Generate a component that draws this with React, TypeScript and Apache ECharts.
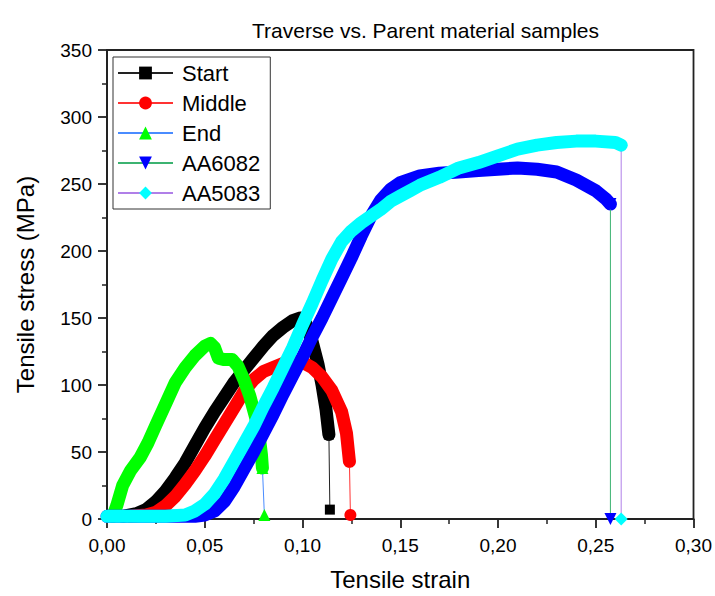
import React, { useEffect, useRef } from "react";
import * as echarts from "echarts";

// ---- Data (strain, stress in MPa) ----
const startStrain = [0.008, 0.015, 0.02, 0.025, 0.03, 0.035, 0.04, 0.045, 0.05, 0.055, 0.06, 0.065, 0.07, 0.075, 0.08, 0.085, 0.09, 0.095, 0.099, 0.102, 0.105, 0.108, 0.11, 0.112, 0.1135];
const startStress = [2, 4, 7, 13, 21, 31, 42, 55, 68, 80, 91, 102, 111, 120, 129, 137, 143, 148, 150, 145, 132, 115, 100, 82, 63];
const startEnd = [0.114, 7];

const middleStrain = [0.012, 0.02, 0.025, 0.03, 0.035, 0.04, 0.045, 0.05, 0.055, 0.06, 0.065, 0.07, 0.075, 0.08, 0.085, 0.09, 0.095, 0.1, 0.105, 0.11, 0.115, 0.12, 0.1225, 0.124];
const middleStress = [2, 3, 5, 10, 17, 26, 36, 47, 59, 71, 83, 95, 104, 110, 113, 116, 118, 117, 113, 106, 96, 80, 64, 43];
const middleEnd = [0.1245, 3];

const endStrain = [0.003, 0.005, 0.008, 0.012, 0.017, 0.021, 0.025, 0.03, 0.035, 0.04, 0.045, 0.05, 0.053, 0.055, 0.057, 0.06, 0.064, 0.067, 0.07, 0.073, 0.076, 0.078, 0.079, 0.0795];
const endStress = [2, 10, 25, 36, 46, 57, 70, 86, 102, 113, 122, 129, 131, 128, 120, 119, 119, 114, 104, 92, 76, 60, 48, 38];
const endEnd = [0.0805, 3];

const aa6082Strain = [0.0, 0.045, 0.05, 0.055, 0.06, 0.065, 0.07, 0.075, 0.08, 0.085, 0.09, 0.095, 0.1, 0.105, 0.11, 0.115, 0.12, 0.125, 0.13, 0.135, 0.14, 0.145, 0.15, 0.16, 0.17, 0.18, 0.19, 0.2, 0.21, 0.22, 0.23, 0.24, 0.25, 0.255, 0.2575];
const aa6082Stress = [2, 2, 3, 6, 13, 24, 37, 50, 64, 78, 93, 107, 121, 136, 150, 165, 180, 195, 211, 226, 238, 246, 251, 256, 258, 259, 260, 261, 262, 261, 259, 253, 245, 239, 235];
const aa6082End = [0.2575, 0];

const aa5083Strain = [0.0, 0.03, 0.04, 0.045, 0.05, 0.055, 0.06, 0.065, 0.07, 0.075, 0.08, 0.085, 0.09, 0.095, 0.1, 0.105, 0.11, 0.115, 0.12, 0.125, 0.13, 0.135, 0.14, 0.145, 0.15, 0.155, 0.16, 0.17, 0.18, 0.19, 0.2, 0.21, 0.22, 0.23, 0.24, 0.25, 0.26, 0.263];
const aa5083Stress = [2, 2, 3, 6, 11, 19, 30, 43, 56, 69, 84, 98, 113, 128, 145, 161, 178, 194, 207, 215, 221, 226, 231, 237, 241, 245, 249, 255, 262, 266, 271, 276, 279, 281, 282, 282, 281, 279];
const aa5083End = [0.263, 0];

const xTicks = [0, 0.05, 0.1, 0.15, 0.2, 0.25, 0.3];
const yTicks = [0, 50, 100, 150, 200, 250, 300, 350];

const FONT = "'Liberation Sans', Arial, Helvetica, sans-serif";

type Def = {
  name: string;
  strain: number[];
  stress: number[];
  end: number[];
  markerColor: string;
  lineColor: string;
  symbol: string;
  rotate?: number;
  symbolSize: number;
};

const defs: Def[] = [
  { name: "Start", strain: startStrain, stress: startStress, end: startEnd, markerColor: "#000000", lineColor: "#222222", symbol: "rect", symbolSize: 10 },
  { name: "Middle", strain: middleStrain, stress: middleStress, end: middleEnd, markerColor: "#ff0000", lineColor: "#ff3333", symbol: "circle", symbolSize: 12 },
  { name: "End", strain: endStrain, stress: endStress, end: endEnd, markerColor: "#00ff00", lineColor: "#4a8cff", symbol: "triangle", symbolSize: 12 },
  { name: "AA6082", strain: aa6082Strain, stress: aa6082Stress, end: aa6082End, markerColor: "#0000ff", lineColor: "#3cb371", symbol: "triangle", rotate: 180, symbolSize: 12 },
  { name: "AA5083", strain: aa5083Strain, stress: aa5083Stress, end: aa5083End, markerColor: "#00ffff", lineColor: "#b07fe8", symbol: "diamond", symbolSize: 13 },
];

export default function App() {
  const ref = useRef<HTMLDivElement>(null);
  useEffect(() => {
    if (!ref.current) return;
    const chart = echarts.init(ref.current, undefined, { renderer: "svg" });

    const bandSeries = defs.map((d) => ({
      name: d.name + "_band",
      type: "line",
      data: d.strain.map((x, i) => [x, d.stress[i]]),
      showSymbol: false,
      symbol: "none",
      lineStyle: { color: d.markerColor, width: 13, cap: "round", join: "round" },
      silent: true,
    }));

    const dropSeries = defs.map((d) => {
      const last = d.strain.length - 1;
      return {
        name: d.name,
        type: "line",
        data: [
          [d.strain[last], d.stress[last]],
          [d.end[0], d.end[1]],
        ],
        symbol: d.symbol,
        symbolRotate: d.rotate || 0,
        symbolSize: d.symbolSize,
        showSymbol: true,
        itemStyle: { color: d.markerColor },
        lineStyle: { color: d.lineColor, width: 1 },
      };
    });

    chart.setOption({
      animation: false,
      title: {
        text: "Traverse vs. Parent material samples",
        left: 247,
        top: 15,
        textStyle: { fontFamily: FONT, fontSize: 21, fontWeight: "normal", color: "#000" },
      },
      legend: {
        data: defs.map((d) => d.name),
        orient: "vertical",
        left: 113,
        top: 57,
        itemWidth: 55,
        itemHeight: 16,
        itemGap: 8,
        padding: [5, 10, 5, 4],
        borderColor: "#333",
        borderWidth: 1,
        backgroundColor: "#fff",
        textStyle: { fontFamily: FONT, fontSize: 22, color: "#000", padding: [0, 0, 0, 4] },
      },
      grid: {
        left: 107,
        right: 18,
        top: 50,
        bottom: 73,
        show: true,
        borderColor: "#222",
        borderWidth: 1.8,
      },
      xAxis: {
        type: "value",
        min: xTicks[0],
        max: xTicks[xTicks.length - 1],
        interval: 0.05,
        name: "Tensile strain",
        nameLocation: "middle",
        nameGap: 48,
        nameTextStyle: { fontFamily: FONT, fontSize: 24, color: "#000" },
        axisLine: { lineStyle: { color: "#222", width: 2 } },
        axisTick: { show: true, inside: false, length: 9, lineStyle: { color: "#222", width: 1.8 } },
        minorTick: { show: true, splitNumber: 2, length: 5, lineStyle: { color: "#222", width: 1.5 } },
        splitLine: { show: false },
        axisLabel: {
          margin: 17,
          fontFamily: FONT,
          fontSize: 19,
          color: "#000",
          formatter: (v: number) => v.toFixed(2).replace(".", ","),
        },
      },
      yAxis: {
        type: "value",
        min: yTicks[0],
        max: yTicks[yTicks.length - 1],
        interval: 50,
        name: "Tensile stress (MPa)",
        nameLocation: "middle",
        nameGap: 70,
        nameRotate: 90,
        nameTextStyle: { fontFamily: FONT, fontSize: 24, color: "#000" },
        axisLine: { show: true, lineStyle: { color: "#222", width: 2 } },
        axisTick: { show: true, inside: false, length: 9, lineStyle: { color: "#222", width: 1.8 } },
        minorTick: { show: true, splitNumber: 2, length: 5, lineStyle: { color: "#222", width: 1.5 } },
        splitLine: { show: false },
        axisLabel: { margin: 15, fontFamily: FONT, fontSize: 19, color: "#000" },
      },
      series: [...bandSeries, ...dropSeries],
    });
    return () => chart.dispose();
  }, []);
  return <div ref={ref} style={{ width: 715, height: 596, position: "absolute", left: 0, top: 0 }} />;
}
